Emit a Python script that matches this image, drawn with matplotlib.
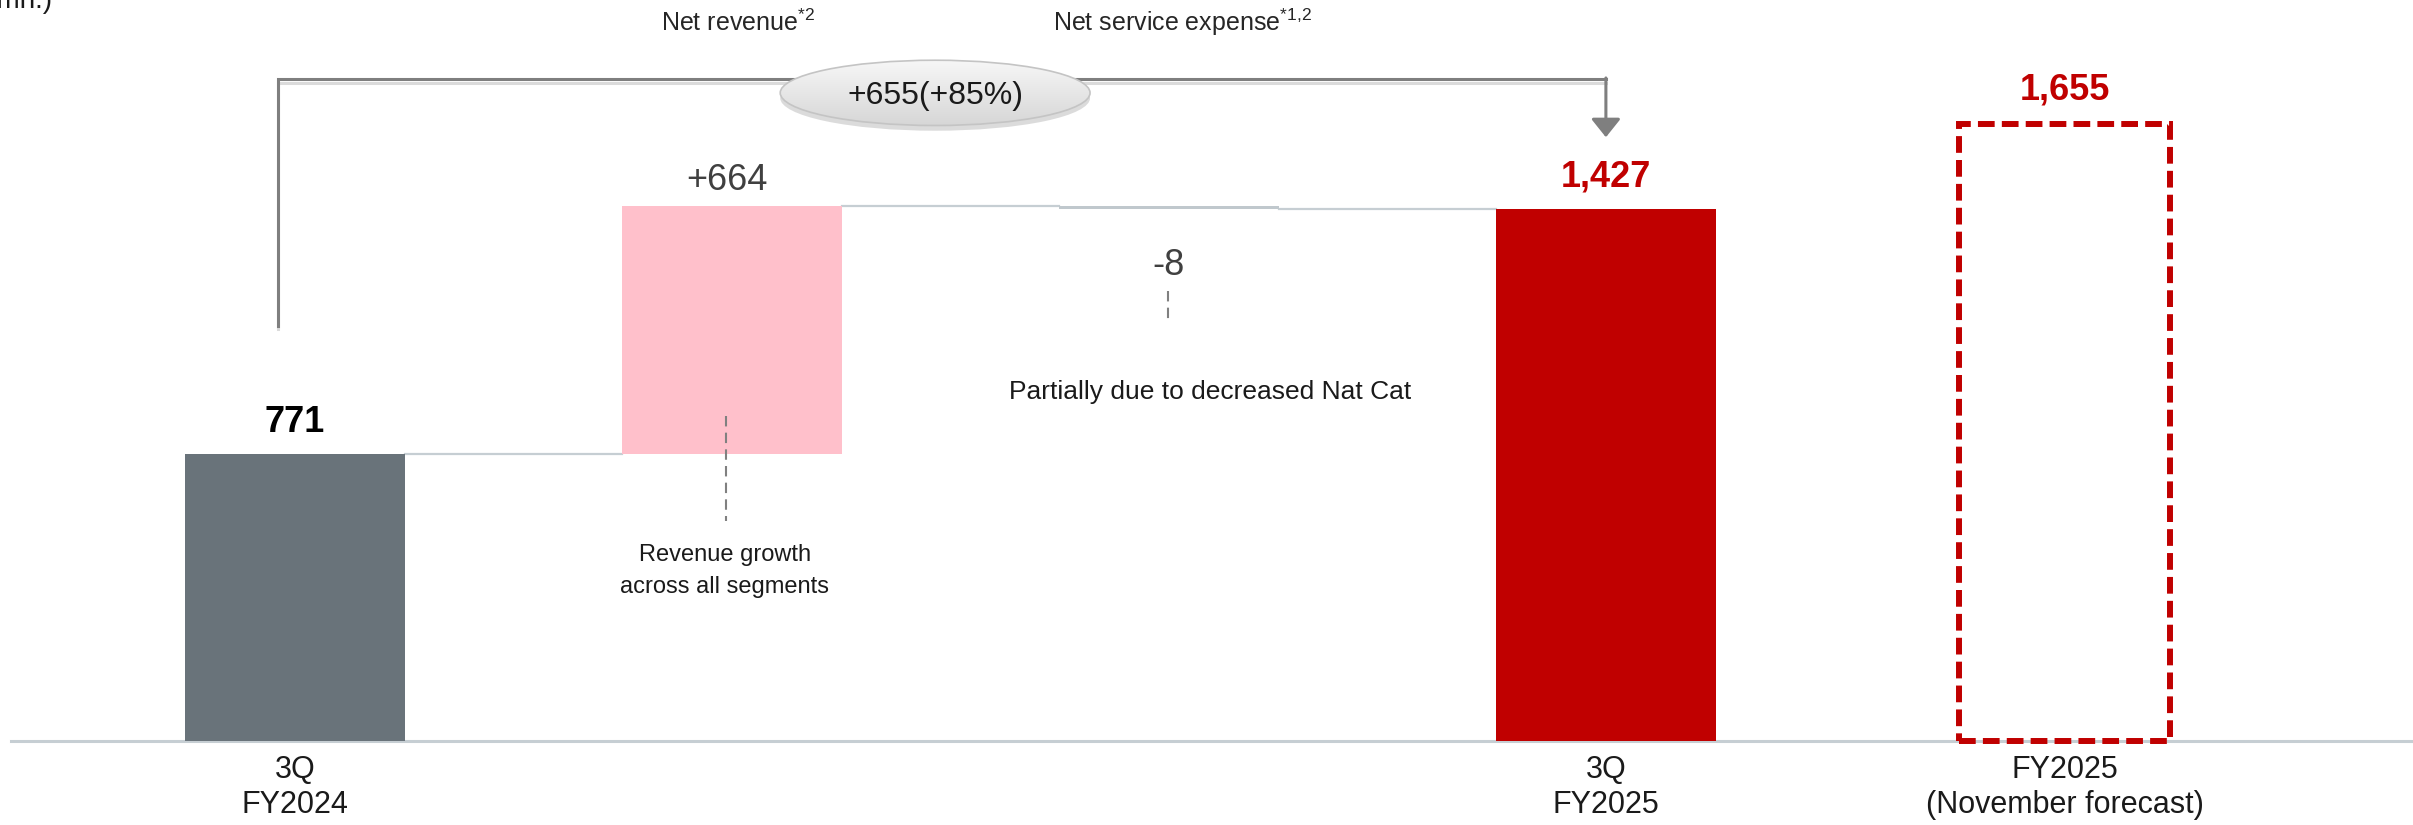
import numpy as np
import matplotlib.pyplot as plt
import matplotlib.patheffects as pe
from matplotlib.patches import Ellipse

plt.rcParams['font.family'] = ['Liberation Sans', 'DejaVu Sans']
plt.rcParams['mathtext.fontset'] = 'custom'
plt.rcParams['mathtext.rm'] = 'Liberation Sans'

# waterfall values (mn.)
start_value = 771
deltas = [664, -8]
end_value = 1427
forecast_value = 1655
change_total = 655
change_pct = 85

cat_labels = ['3Q\nFY2024', '3Q\nFY2025', 'FY2025\n(November forecast)']
delta_titles = [r'Net revenue$^{\mathregular{*2}}$', r'Net service expense$^{\mathregular{*1{,}2}}$']
delta_notes = ['Revenue growth\nacross all segments', 'Partially due to decreased Nat Cat']

# colours
GREY = '#69737a'
PINK = '#ffc0cb'
NEG = '#c0c8cd'
RED = '#c00000'
LINE = '#c6ced3'
ARROW = '#7f7f7f'

xpos = np.array([0, 1, 2, 3, 4.05])
W = 0.505

fig = plt.figure(figsize=(24.13, 8.25), dpi=100)
ax = fig.add_axes([0, 0, 1, 1])
ax.set_xlim(-0.675, 4.847)
ax.set_ylim(-225, 1987)
ax.axis('off')

# baseline
ax.plot([-0.65, 4.847], [0, 0], color=LINE, lw=2.2, zorder=1)

# running totals: 771 -> 1435 -> 1427
levels = start_value + np.cumsum([0] + deltas)

ax.bar(xpos[0], start_value, W, color=GREY, zorder=2)
ax.bar(xpos[1], deltas[0], W, bottom=levels[0], color=PINK, zorder=2)
ax.bar(xpos[2], deltas[1], W, bottom=levels[1], color=NEG, zorder=2)
ax.bar(xpos[3], end_value, W, color=RED, zorder=2)
ax.bar(xpos[4], forecast_value, 0.483, fill=False, edgecolor=RED, lw=4.3,
       ls=(0, (2.8, 1.2)), zorder=2)

# connectors between steps
for i, lev in enumerate(levels):
    ax.plot([xpos[i] + W / 2, xpos[i + 1] - W / 2], [lev, lev], color=LINE, lw=1.6, zorder=1)

# value labels
def value_label(x, y, text, color, weight='normal', gap=15.8):
    ax.annotate(text, (x, y), xytext=(0, gap), textcoords='offset points',
                ha='center', va='baseline', fontsize=26, color=color, fontweight=weight)

value_label(xpos[0], start_value, f'{start_value:,}', 'black', 'bold')
value_label(xpos[1] - 0.012, levels[1], f'+{deltas[0]:,}', '#404040', gap=11.5)
value_label(xpos[3], end_value, f'{end_value:,}', RED, 'bold')
value_label(xpos[4], forecast_value, f'{forecast_value:,}', RED, 'bold', gap=17.5)
ax.text(xpos[2], 1249, f'{deltas[1]}', ha='center', va='baseline', fontsize=26, color='#404040')

# step titles
ax.text(xpos[1] + 0.014, 1903, delta_titles[0], ha='center', va='baseline', fontsize=18, color='#262626')
ax.text(xpos[2] + 0.032, 1903, delta_titles[1], ha='center', va='baseline', fontsize=18, color='#262626')

# notes with dashed leaders (va='baseline' pins the last line)
dash = dict(color='#808080', lw=1.5, ls=(0, (5, 3)))
ax.plot([0.986, 0.986], [871, 590], **dash)
ax.text(0.984, 396, delta_notes[0], ha='center', va='baseline', fontsize=17,
        color='#1a1a1a', linespacing=1.6)
ax.plot([1.998, 1.998], [1206, 1123], **dash)
ax.text(2.094, 917, delta_notes[1], ha='center', va='baseline', fontsize=19, color='#1a1a1a')

# category labels under the axis
for x, lab in zip(xpos[[0, 3, 4]], cat_labels):
    ax.text(x, -193, lab, ha='center', va='baseline', fontsize=22, color='#1a1a1a',
            linespacing=1.2)

# unit label (cut off at the left edge)
ax.text(-0.556, 1965, '(USD mn.)', ha='right', va='baseline', fontsize=20, color='#1a1a1a')

# overall change bracket with arrow
shadow = [pe.SimpleLineShadow(offset=(0, -2.5), shadow_color='#999999', alpha=0.35),
          pe.Normal()]
bx = xpos[0] - 0.039
top = 1775
ax.plot([bx, bx, xpos[3]], [1113, top, top], color=ARROW, lw=2.2,
        solid_joinstyle='miter', path_effects=shadow, zorder=3)
ax.annotate('', xy=(xpos[3], 1619), xytext=(xpos[3], top + 3),
            arrowprops=dict(arrowstyle='-|>,head_length=0.25,head_width=0.2',
                            color=ARROW, lw=2.2, mutation_scale=45, shrinkA=0, shrinkB=0),
            zorder=3)

# change bubble with soft vertical gradient
ecx, ecy, ew, eh = 1.465, 1738, 0.709, 175
ax.add_patch(Ellipse((ecx, ecy - 14), ew, eh, color='#b0b0b0', alpha=0.45, lw=0, zorder=4))
bubble = Ellipse((ecx, ecy), ew, eh, facecolor='none', edgecolor='#c4c4c4', lw=1.2, zorder=6)
ax.add_patch(bubble)
grad = np.linspace(0, 1, 100).reshape(-1, 1)
img = ax.imshow(grad, cmap=plt.matplotlib.colors.LinearSegmentedColormap.from_list(
                    'bub', ['#d6d6d6', '#f7f7f7']),
                extent=(ecx - ew / 2, ecx + ew / 2, ecy - eh / 2, ecy + eh / 2),
                origin='lower', aspect='auto', zorder=5)
img.set_clip_path(bubble)
ax.text(ecx, ecy - 8, f'+{change_total}(+{change_pct}%)', ha='center', va='center',
        fontsize=23, color='#1a1a1a', zorder=7)

fig.savefig('out.png', dpi=100)
